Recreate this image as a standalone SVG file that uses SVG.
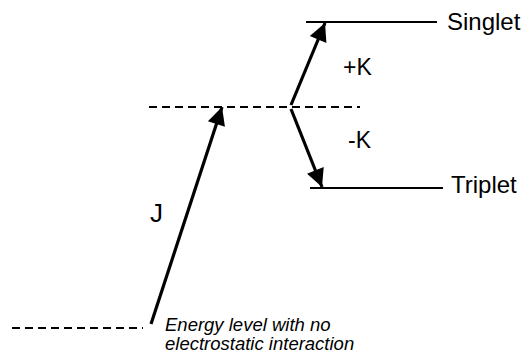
<svg xmlns="http://www.w3.org/2000/svg" width="526" height="356" viewBox="0 0 526 356">
<style>
.lvl{stroke:#000;stroke-width:2;fill:none}
.dash{stroke:#000;stroke-width:2;fill:none;stroke-dasharray:8 5}
.arr{stroke:#000;stroke-width:3.2;fill:none}
.t{font-family:"Liberation Sans",Arial,sans-serif;font-size:23px;fill:#000}
.it{font-family:"Liberation Sans",Arial,sans-serif;font-size:18.5px;font-style:italic;fill:#000}
</style>
<defs>
<marker id="ah" viewBox="0 0 10 10" refX="10" refY="5" markerWidth="8" markerHeight="5.6" orient="auto" markerUnits="strokeWidth">
<path d="M0,0 L10,5 L0,10 Z" fill="#000"/>
</marker>
</defs>
<g id="levels">
<line class="dash" x1="12" y1="328" x2="143" y2="328"/>
<line class="dash" x1="149" y1="107" x2="360" y2="107"/>
<line class="lvl" x1="306" y1="22" x2="437" y2="22"/>
<line class="lvl" x1="310" y1="188" x2="443" y2="188"/>
</g>
<g id="connectors">
<line class="arr" x1="151" y1="324" x2="222" y2="107" marker-end="url(#ah)"/>
<line class="arr" x1="291" y1="105" x2="325" y2="23" marker-end="url(#ah)"/>
<line class="arr" x1="291" y1="109" x2="322" y2="187" marker-end="url(#ah)"/>
</g>
<g id="labels">
<text class="t" x="447" y="30" style="font-size:24px">Singlet</text>
<text class="t" x="451" y="193" style="font-size:24px">Triplet</text>
<text class="t" x="343" y="75">+K</text>
<text class="t" x="348" y="148">-K</text>
<text class="t" x="150" y="222" style="font-size:26px">J</text>
<text class="it" x="165" y="331">Energy level with no</text>
<text class="it" x="165" y="350">electrostatic interaction</text>
</g>
</svg>
